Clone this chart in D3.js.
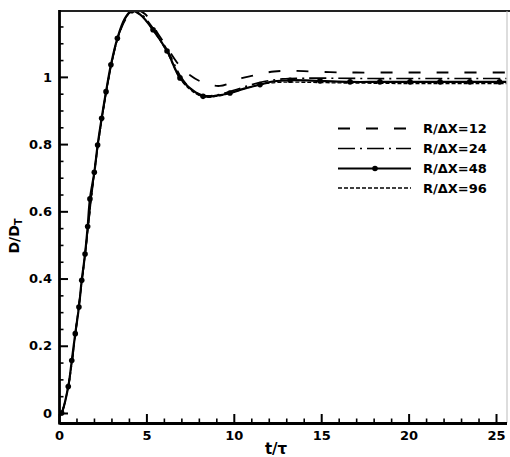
<!DOCTYPE html>
<html><head><meta charset="utf-8">
<script src="https://cdn.jsdelivr.net/npm/d3@7"></script>
<style>html,body{margin:0;padding:0;background:#fff;} svg{display:block;}</style>
</head><body>
<svg id="chart" width="510" height="457"></svg>
<script>
// ---------- data ----------
const seriesNames = ["R/\u0394X=12", "R/\u0394X=24", "R/\u0394X=48", "R/\u0394X=96"];

const t12 = [0, 0.15, 0.53, 1.0, 1.5, 2.0, 2.5, 3.0, 3.4, 3.9, 4.4, 4.92, 5.68, 6.25, 6.92, 7.5, 8.07, 8.6, 9.2, 9.8, 10.45, 11.1, 11.7, 12.3, 12.93, 14, 15.5, 17, 19, 21, 23, 25.7];
const d12 = [-0.01, 0, 0.079, 0.262, 0.476, 0.708, 0.893, 1.038, 1.122, 1.178, 1.199, 1.187, 1.127, 1.082, 1.032, 1.005, 0.987, 0.977, 0.973, 0.982, 0.996, 1.004, 1.011, 1.016, 1.018, 1.017, 1.014, 1.013, 1.013, 1.013, 1.013, 1.013];

const t24 = [0, 0.15, 0.53, 1.0, 1.5, 2.0, 2.5, 3.0, 3.4, 3.8, 4.25, 4.7, 5.45, 6.25, 7.0, 7.7, 8.4, 9.2, 10.0, 10.9, 11.8, 12.8, 14, 16, 18, 20, 22, 24, 25.7];
const d24 = [-0.01, 0, 0.079, 0.262, 0.476, 0.708, 0.893, 1.038, 1.122, 1.175, 1.198, 1.187, 1.14, 1.075, 0.998, 0.958, 0.944, 0.948, 0.96, 0.975, 0.987, 0.994, 0.996, 0.996, 0.995, 0.995, 0.995, 0.995, 0.995];

const t48 = [0, 0.15, 0.53, 0.73, 0.93, 1.14, 1.30, 1.49, 1.64, 1.77, 2.02, 2.21, 2.44, 2.69, 2.97, 3.34, 3.75, 4.16, 4.65, 5.38, 6.18, 6.92, 7.6, 8.24, 9.0, 9.78, 10.6, 11.5, 12.3, 13.22, 14.93, 16.65, 18.36, 20.08, 21.8, 23.5, 25.2, 25.7];
const d48 = [-0.01, 0, 0.079, 0.156, 0.236, 0.315, 0.395, 0.473, 0.555, 0.637, 0.716, 0.797, 0.877, 0.956, 1.036, 1.115, 1.172, 1.197, 1.185, 1.140, 1.077, 0.997, 0.962, 0.942, 0.944, 0.952, 0.965, 0.977, 0.987, 0.990, 0.988, 0.985, 0.985, 0.985, 0.985, 0.985, 0.985, 0.985];

const markT48 = [0.15, 0.53, 0.73, 0.93, 1.14, 1.30, 1.49, 1.64, 1.77, 2.02, 2.21, 2.44, 2.69, 2.97, 3.34, 4.16, 5.38, 6.18, 6.92, 8.24, 9.78, 11.5, 13.22, 14.93, 16.65, 18.36, 20.08, 21.8, 23.5, 25.2];
const markD48 = [0, 0.079, 0.156, 0.236, 0.315, 0.395, 0.473, 0.555, 0.637, 0.716, 0.797, 0.877, 0.956, 1.036, 1.115, 1.197, 1.140, 1.077, 0.997, 0.942, 0.952, 0.977, 0.990, 0.988, 0.985, 0.985, 0.985, 0.985, 0.985, 0.985];

const t96 = [0, 0.15, 0.53, 1.0, 1.5, 2.0, 2.5, 3.0, 3.4, 3.8, 4.2, 4.65, 5.4, 6.2, 6.95, 7.6, 8.3, 9.1, 9.9, 10.8, 11.7, 12.7, 14, 16, 18, 20, 22, 24, 25.7];
const d96 = [-0.01, 0, 0.079, 0.262, 0.476, 0.708, 0.893, 1.038, 1.122, 1.174, 1.196, 1.185, 1.138, 1.072, 0.993, 0.958, 0.940, 0.943, 0.953, 0.968, 0.979, 0.984, 0.984, 0.982, 0.981, 0.980, 0.980, 0.980, 0.980];

const xTicks = [0, 5, 10, 15, 20, 25];
const xTickLabels = ["0", "5", "10", "15", "20", "25"];
const yTicks = [0, 0.2, 0.4, 0.6, 0.8, 1];
const yTickLabels = ["0", "0.2", "0.4", "0.6", "0.8", "1"];
const xMinor = [1,2,3,4,6,7,8,9,11,12,13,14,16,17,18,19,21,22,23,24];
const yMinor = [0.05,0.1,0.15,0.25,0.3,0.35,0.45,0.5,0.55,0.65,0.7,0.75,0.85,0.9,0.95,1.05,1.1,1.15];

// ---------- layout ----------
const L = 59, R = 506.5, T = 11, B = 423;
const FONT = "'DejaVu Sans', sans-serif";
const svg = d3.select("#chart");
const x = d3.scaleLinear().domain([0, 25.6]).range([L, R]);
const y = d3.scaleLinear().domain([-0.0298, 1.196]).range([B, T]);

svg.append("defs").append("clipPath").attr("id", "clip")
  .append("rect").attr("x", L).attr("y", T - 1).attr("width", R - L).attr("height", B - T + 1);

const styles = [
  {dash: "12,16", w: 1.8},
  {dash: "17,5,2,5", w: 1.6},
  {dash: null, w: 2.2},
  {dash: "4,2", w: 1.3}
];
const data = [
  t12.map((t, i) => [t, d12[i]]),
  t24.map((t, i) => [t, d24[i]]),
  t48.map((t, i) => [t, d48[i]]),
  t96.map((t, i) => [t, d96[i]])
];
const line = d3.line().x(d => x(d[0])).y(d => y(d[1])).curve(d3.curveCatmullRom.alpha(0.5));

const plot = svg.append("g").attr("clip-path", "url(#clip)");
data.forEach((s, i) => {
  plot.append("path").attr("d", line(s)).attr("fill", "none")
    .attr("stroke", "#000").attr("stroke-width", styles[i].w)
    .attr("stroke-dasharray", styles[i].dash);
});
plot.selectAll("circle.m").data(markT48.map((t, i) => [t, markD48[i]])).enter()
  .append("circle").attr("cx", d => x(d[0])).attr("cy", d => y(d[1])).attr("r", 2.8).attr("fill", "#000");

// ---------- frame ----------
svg.append("line").attr("x1", L).attr("x2", 510).attr("y1", T).attr("y2", T)
  .attr("stroke", "#222").attr("stroke-width", 2.2);
svg.append("line").attr("x1", 507).attr("x2", 507).attr("y1", T).attr("y2", B)
  .attr("stroke", "#bbb").attr("stroke-width", 1);

// ---------- axes ----------
const gx = svg.append("g").attr("transform", `translate(0,${B})`)
  .call(d3.axisBottom(x).tickValues(xTicks).tickFormat((d, i) => xTickLabels[i])
    .tickSizeInner(-9).tickSizeOuter(0).tickPadding(8));
svg.append("g").attr("transform", `translate(0,${B})`)
  .call(d3.axisBottom(x).tickValues(xMinor).tickFormat("").tickSizeInner(-4.5).tickSizeOuter(0))
  .call(g => g.select(".domain").remove())
  .selectAll("line").attr("stroke-width", 1.6);

const gy = svg.append("g").attr("transform", `translate(${L},0)`)
  .call(d3.axisLeft(y).tickValues(yTicks).tickFormat((d, i) => yTickLabels[i])
    .tickSizeInner(-9).tickSizeOuter(0).tickPadding(7));
svg.append("g").attr("transform", `translate(${L},0)`)
  .call(d3.axisLeft(y).tickValues(yMinor).tickFormat("").tickSizeInner(-4.5).tickSizeOuter(0))
  .call(g => g.select(".domain").remove())
  .selectAll("line").attr("stroke-width", 1.6);

[gx, gy].forEach(g => {
  g.attr("font-family", FONT).attr("font-size", 13).attr("font-weight", "bold");
  g.select(".domain").attr("stroke-width", 2.8);
  g.selectAll(".tick line").attr("stroke-width", 2);
  g.selectAll(".tick text").attr("fill", "#000");
});
gy.select(".domain").attr("d", `M0.5,${B + 1.4}V${T - 1}`);

// ---------- axis titles ----------
svg.append("text").attr("x", 276).attr("y", 454).attr("text-anchor", "middle")
  .attr("font-family", FONT).attr("font-weight", "bold").attr("font-size", 15).text("t/\u03C4");
const yl = svg.append("text").attr("transform", "translate(19,236) rotate(-90)")
  .attr("text-anchor", "middle").attr("font-family", FONT).attr("font-weight", "bold").attr("font-size", 14);
yl.append("tspan").text("D/D");
yl.append("tspan").attr("font-size", 10).attr("dy", 3).text("T");

// ---------- legend ----------
const legY = [128.5, 148.5, 168.5, 188];
seriesNames.forEach((name, i) => {
  svg.append("line").attr("x1", 338).attr("x2", 411).attr("y1", legY[i]).attr("y2", legY[i])
    .attr("stroke", "#000").attr("stroke-width", styles[i].w).attr("stroke-dasharray", styles[i].dash);
  if (i === 2) svg.append("circle").attr("cx", 375).attr("cy", legY[i]).attr("r", 2.8).attr("fill", "#000");
  svg.append("text").attr("x", 423).attr("y", legY[i]).attr("dy", "0.36em")
    .attr("font-family", FONT).attr("font-weight", "bold").attr("font-size", 13).text(name);
});
</script>
</body></html>
